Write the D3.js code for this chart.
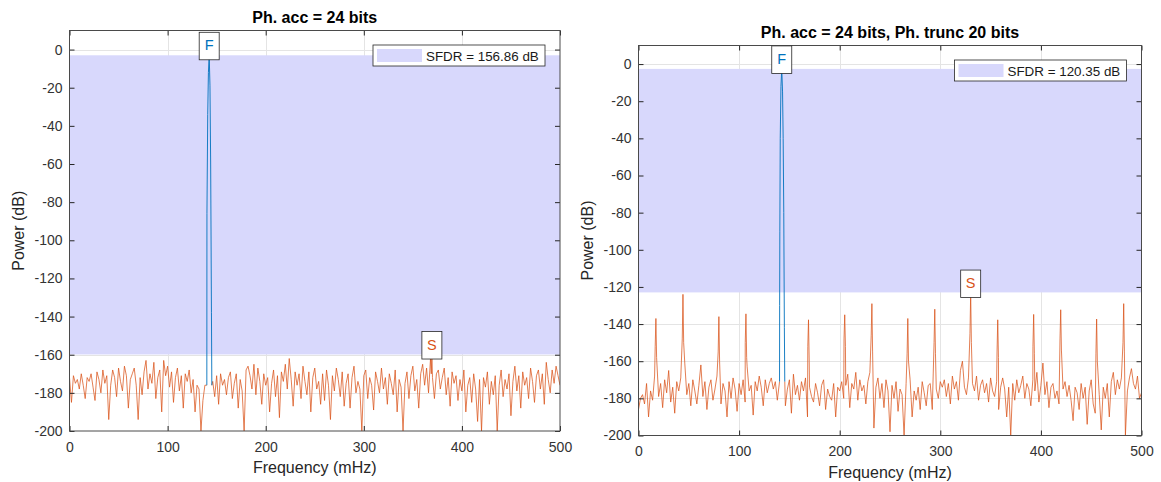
<!DOCTYPE html>
<html>
<head>
<meta charset="utf-8">
<script src="https://cdn.jsdelivr.net/npm/d3@7"></script>
<style>
  body { margin: 0; background: #fff; }
  svg { font-family: "Liberation Sans", Arial, Helvetica, sans-serif; }
</style>
</head>
<body>
<svg width="1161" height="482"></svg>
<script>
var titles = ["Ph. acc = 24 bits", "Ph. acc = 24 bits, Ph. trunc 20 bits"];
var sfdrDb = [156.86, 120.35];
var xTicks = [0, 100, 200, 300, 400, 500];
var yTicks = [0, -20, -40, -60, -80, -100, -120, -140, -160, -180, -200];

// noise floor, one sample every 2 mHz from 0 to 500 mHz
var noiseStep = 2;
var noiseLeft = [
  -172,-185,-171,-175,-173,-178,-170,-176,-183,-172,-174,
  -170,-177,-184,-169,-173,-180,-168,-175,-171,-194,
  -176,-168,-172,-182,-167,-174,-179,-166,-171,-188,
  -173,-170,-167,-176,-194,-172,-181,-169,-163,-178,
  -170,-175,-164,-183,-172,-168,-190,-163,-171,-166,
  -177,-169,-185,-172,-167,-179,-171,-188,-170,-174,
  -168,-180,-173,-190,-176,-178,-200,-184,-176,-178,
  -180,-178,-174,-182,-171,-186,-170,-176,-173,-181,
  -172,-169,-183,-175,-170,-188,-173,-179,-200,-168,
  -166,-171,-178,-165,-181,-167,-174,-186,-170,-176,
  -172,-190,-175,-168,-182,-171,-193,-169,-174,-165,
  -178,-162,-173,-187,-169,-176,-170,-183,-166,-174,
  -181,-169,-190,-172,-167,-178,-174,-186,-170,-184,
  -168,-176,-194,-171,-179,-167,-173,-182,-169,-187,
  -175,-170,-188,-172,-166,-180,-174,-178,-200,-171,
  -168,-183,-172,-176,-189,-169,-174,-180,-167,-178,
  -172,-186,-170,-175,-181,-168,-190,-173,-177,-200,
  -175,-169,-183,-171,-166,-179,-173,-188,-170,-165,
  -176,-167,-180,-162,-174,-183,-170,-168,-178,-172,
  -167,-181,-172,-187,-169,-175,-171,-184,-173,-179,
  -168,-190,-176,-172,-185,-170,-178,-195,-173,-200,
  -172,-177,-169,-186,-174,-181,-171,-200,-176,-168,
  -182,-173,-178,-170,-192,-174,-166,-179,-171,-188,
  -169,-176,-172,-183,-167,-174,-185,-171,-168,-178,
  -170,-186,-164,-173,-180,-168,-175,-166,-171,-176
];
var noiseRight = [
  -186,-180,-178,-183,-172,-190,-176,-181,-168,-175,-179,
  -172,-185,-170,-177,-165,-182,-174,-188,-171,-176,
  -169,-174,-161,-178,-172,-184,-170,-176,-183,-173,
  -162,-179,-171,-186,-174,-170,-181,-175,-168,-177,
  -183,-172,-176,-190,-171,-180,-169,-175,-187,-172,
  -178,-170,-182,-163,-176,-173,-189,-171,-176,-168,
  -174,-184,-170,-177,-172,-169,-175,-171,-181,-170,
  -172,-174,-184,-175,-170,-188,-167,-178,-173,-181,
  -171,-176,-169,-190,-174,-179,-182,-172,-177,-184,
  -173,-170,-186,-175,-179,-181,-172,-190,-174,-176,
  -171,-180,-173,-167,-185,-172,-175,-166,-181,-170,
  -176,-173,-183,-171,-166,-178,-196,-174,-169,-180,
  -172,-185,-170,-176,-198,-173,-180,-171,-187,-175,
  -178,-200,-172,-184,-170,-190,-176,-181,-174,-186,
  -171,-177,-184,-173,-172,-186,-170,-175,-180,-171,
  -174,-170,-179,-172,-183,-168,-175,-171,-181,-165,
  -160,-174,-178,-169,-188,-172,-176,-168,-181,-173,
  -170,-177,-172,-182,-169,-176,-179,-171,-186,-174,
  -169,-175,-190,-174,-200,-172,-181,-170,-177,-173,
  -168,-180,-172,-175,-184,-170,-176,-166,-182,-173,
  -161,-178,-171,-185,-174,-172,-180,-176,-183,-170,
  -175,-171,-179,-173,-181,-192,-174,-177,-186,-172,
  -180,-174,-194,-176,-170,-183,-188,-171,-178,-197,
  -174,-180,-172,-190,-171,-166,-178,-170,-175,-169,
  -173,-200,-176,-169,-164,-172,-175,-168,-180,-177
];

// fundamental tone (mHz, dB)
var fundFreqLeft = [140.0, 140.1, 140.9, 141.6, 142.4, 143.2, 143.9, 144.7, 145.1];
var fundDbLeft = [-176, -86, -34, -12, -3, -19, -60, -138, -176];
var fundFreqRight = [140.2, 140.3, 140.5, 140.9, 141.6, 142.4, 143.2, 143.8, 144.4, 145.0, 145.4];
var fundDbRight = [-171, -130, -90, -40, -12, -2.6, -15, -40, -80, -142, -171];

// spurs, three points each: left shoulder, peak, right shoulder
var spurFreqLeft = [368.8, 369.4, 370.0];
var spurDbLeft = [-170, -159.9, -172];
var spurFreqRight = [
  16.6, 17.3, 18.0,   43.5, 44.2, 44.9,   79.2, 79.9, 80.6,   106.1, 106.8, 107.5,
  168.3, 169.0, 169.7, 204.3, 205.0, 205.7, 231.3, 232.0, 232.7, 267.0, 267.7, 268.4,
  293.8, 294.5, 295.2, 329.5, 330.2, 330.9, 356.4, 357.1, 357.8, 392.1, 392.8, 393.5,
  419.0, 419.7, 420.4, 454.7, 455.4, 456.1, 481.6, 482.3, 483.0
];
var spurDbRight = [
  -152, -137, -158,   -148, -124, -150,   -155, -136, -160,   -150, -134.5, -158,
  -152, -137.7, -160, -148, -135, -152,   -146, -129, -155,   -156, -137, -160,
  -150, -132, -156,   -145, -123.3, -150, -155, -137.7, -158, -152, -134.8, -156,
  -148, -132.3, -154, -156, -137.3, -160, -150, -129, -155
];

var panels = [
  {left: 69.5, right: 560, top: 30.5, bottom: 431, title: titles[0], sfdr: sfdrDb[0],
   noise: noiseLeft, fundF: fundFreqLeft, fundD: fundDbLeft, spurF: spurFreqLeft, spurD: spurDbLeft},
  {left: 638.5, right: 1141.5, top: 45.5, bottom: 435.5, title: titles[1], sfdr: sfdrDb[1],
   noise: noiseRight, fundF: fundFreqRight, fundD: fundDbRight, spurF: spurFreqRight, spurD: spurDbRight}
];

var svg = d3.select("svg");
var orange = "#D95319", blue = "#0072BD", axisColor = "#262626";

function buildSeries(p) {
  var pts = [];
  var fLo = p.fundF[0], fHi = p.fundF[p.fundF.length - 1];
  p.noise.forEach(function (v, i) {
    var f = i * noiseStep;
    if (f >= fLo - 0.2 && f <= fHi + 0.2) return;
    for (var k = 0; k < p.spurF.length; k += 3) {
      if (f >= p.spurF[k] && f <= p.spurF[k + 2]) return;
    }
    pts.push({f: f, db: v});
  });
  p.spurF.forEach(function (f, i) { pts.push({f: f, db: p.spurD[i]}); });
  p.fundF.forEach(function (f, i) { pts.push({f: f, db: p.fundD[i]}); });
  pts.sort(function (a, b) { return a.f - b.f; });
  return pts;
}

function marker(g, cx, cy, label, color) {
  var top = cy + 4.5 - 27.5;
  g.append("rect")
      .attr("x", cx - 10).attr("y", top)
      .attr("width", 20).attr("height", 27.5)
      .attr("fill", "#fff").attr("stroke", axisColor).attr("stroke-width", 0.8);
  g.append("text")
      .attr("x", cx).attr("y", top + 18)
      .attr("text-anchor", "middle")
      .attr("font-size", "14.5px")
      .attr("fill", color)
      .text(label);
}

function drawPanel(p, k) {
  var x = d3.scaleLinear().domain([0, 500]).range([p.left, p.right]);
  var y = d3.scaleLinear().domain([-200, 10]).range([p.bottom, p.top]);
  var g = svg.append("g");

  svg.append("clipPath").attr("id", "clip" + k)
    .append("rect")
      .attr("x", p.left).attr("y", p.top)
      .attr("width", p.right - p.left).attr("height", p.bottom - p.top);

  // grid
  g.append("g").selectAll("line")
      .data(xTicks.slice(1, -1))
      .enter().append("line")
      .attr("x1", function (d) { return Math.round(x(d)) + 0.5; })
      .attr("x2", function (d) { return Math.round(x(d)) + 0.5; })
      .attr("y1", p.top).attr("y2", p.bottom)
      .attr("stroke", "#e4e4e4");
  g.append("g").selectAll("line")
      .data(yTicks.slice(0, -1))
      .enter().append("line")
      .attr("y1", function (d) { return Math.round(y(d)) + 0.5; })
      .attr("y2", function (d) { return Math.round(y(d)) + 0.5; })
      .attr("x1", p.left).attr("x2", p.right)
      .attr("stroke", "#e4e4e4");

  // SFDR band
  var peakI = d3.maxIndex(p.fundD);
  var peak = p.fundD[peakI];
  g.append("rect")
      .attr("x", x(0)).attr("width", x(500) - x(0))
      .attr("y", y(peak)).attr("height", y(peak - p.sfdr) - y(peak))
      .attr("fill", "#d8d8fc");

  // spectrum
  var pts = buildSeries(p);
  var fLo = p.fundF[0], fHi = p.fundF[p.fundF.length - 1];
  var line = d3.line()
      .x(function (d) { return x(d.f); })
      .y(function (d) { return y(d.db); });
  var plot = g.append("g").attr("clip-path", "url(#clip" + k + ")");
  plot.append("path")
      .datum(pts)
      .attr("d", line.defined(function (d) { return d.f <= fLo || d.f >= fHi; }))
      .attr("fill", "none").attr("stroke", orange).attr("stroke-width", 0.75);
  plot.append("path")
      .datum(pts.filter(function (d) { return d.f >= fLo && d.f <= fHi; }))
      .attr("d", d3.line()
          .x(function (d) { return x(d.f); })
          .y(function (d) { return y(d.db); }))
      .attr("fill", "none").attr("stroke", blue).attr("stroke-width", 0.9);

  // axes, ticks pointing inward on all four sides
  var fmt = function (d) { return String(d); };
  var bottomAxis = g.append("g")
      .attr("transform", "translate(0," + p.bottom + ")")
      .call(d3.axisBottom(x).tickValues(xTicks).tickFormat(fmt).tickSizeInner(-5).tickSizeOuter(0).tickPadding(11));
  var leftAxis = g.append("g")
      .attr("transform", "translate(" + p.left + ",0)")
      .call(d3.axisLeft(y).tickValues(yTicks).tickFormat(fmt).tickSizeInner(-5).tickSizeOuter(0).tickPadding(7));
  var topAxis = g.append("g")
      .attr("transform", "translate(0," + p.top + ")")
      .call(d3.axisTop(x).tickValues(xTicks).tickSizeInner(-5).tickSizeOuter(0).tickFormat(""));
  var rightAxis = g.append("g")
      .attr("transform", "translate(" + p.right + ",0)")
      .call(d3.axisRight(y).tickValues(yTicks).tickSizeInner(-5).tickSizeOuter(0).tickFormat(""));
  [bottomAxis, leftAxis, topAxis, rightAxis].forEach(function (a) {
    a.select(".domain").remove();
    a.selectAll("line").attr("stroke", axisColor);
    a.selectAll("text")
        .attr("fill", "#333")
        .attr("font-size", "14px")
        .attr("font-family", "'Liberation Sans', Arial, sans-serif");
  });
  g.append("rect")
      .attr("x", p.left).attr("y", p.top)
      .attr("width", p.right - p.left).attr("height", p.bottom - p.top)
      .attr("fill", "none").attr("stroke", "#4a4a4a").attr("stroke-width", 1);

  // F and S labels
  marker(g, x(p.fundF[peakI]), y(peak), "F", blue);
  var spurI = d3.maxIndex(p.spurD);
  marker(g, x(p.spurF[spurI]), y(p.spurD[spurI]), "S", orange);

  // legend
  var lx = p.right - 15 - 172, ly = p.top + 14.5;
  var leg = g.append("g");
  leg.append("rect")
      .attr("x", lx).attr("y", ly).attr("width", 172).attr("height", 21)
      .attr("fill", "#fff").attr("stroke", axisColor).attr("stroke-width", 0.8);
  leg.append("rect")
      .attr("x", lx + 4).attr("y", ly + 4).attr("width", 45).attr("height", 13)
      .attr("fill", "#d8d8fc");
  leg.append("text")
      .attr("x", lx + 53).attr("y", ly + 15.8)
      .attr("font-size", "13.4px")
      .attr("fill", "#1a1a1a")
      .text("SFDR = " + p.sfdr.toFixed(2) + " dB");

  // titles and axis labels
  g.append("text")
      .attr("x", (p.left + p.right) / 2).attr("y", p.top - 7.5)
      .attr("text-anchor", "middle")
      .attr("font-size", "16px").attr("font-weight", "bold")
      .attr("fill", "#000")
      .text(p.title);
  g.append("text")
      .attr("x", (p.left + p.right) / 2).attr("y", p.bottom + 42)
      .attr("text-anchor", "middle")
      .attr("font-size", "16px")
      .attr("fill", "#262626")
      .text("Frequency (mHz)");
  g.append("text")
      .attr("transform", "translate(" + (p.left - 51) + "," + ((p.top + p.bottom) / 2) + ") rotate(-90)")
      .attr("dy", "0.35em")
      .attr("text-anchor", "middle")
      .attr("font-size", "16px")
      .attr("fill", "#262626")
      .text("Power (dB)");
}

panels.forEach(drawPanel);
</script>
</body>
</html>
